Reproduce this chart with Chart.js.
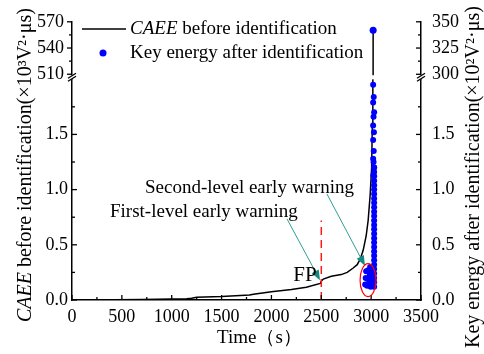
<!DOCTYPE html>
<html>
<head>
<meta charset="utf-8">
<script src="https://cdn.jsdelivr.net/npm/chart.js@4/dist/chart.umd.min.js"></script>
<style>
  html, body { margin: 0; padding: 0; background: #fff; }
</style>
</head>
<body>
<canvas id="c" width="484" height="354"></canvas>
<script>
var xTickValues = [0, 500, 1000, 1500, 2000, 2500, 3000, 3500];
var leftLowTicks = [0, 0.5, 1.0, 1.5];
var leftTopTicks = [510, 540, 570];
var rightLowTicks = [0, 0.5, 1.0, 1.5];
var rightTopTicks = [300, 325, 350];

// CAEE before identification (x10^3 V^2.us)
var caeeTime  = [150, 700, 1150, 1200, 1250, 1500, 1780, 1820, 2000, 2200, 2350, 2490, 2500, 2520, 2600, 2700, 2760, 2820, 2860, 2890, 2920, 2950, 2970, 2990, 3005, 3012, 3017, 3020];
var caeeValue = [0, 0.004, 0.012, 0.016, 0.024, 0.031, 0.045, 0.052, 0.075, 0.095, 0.115, 0.15, 0.17, 0.19, 0.215, 0.23, 0.25, 0.29, 0.32, 0.37, 0.45, 0.58, 0.72, 0.95, 1.2, 1.6, 2.3, 560];

// Key energy after identification (x10^2 V^2.us), lower part of the right axis
var keyTime = [
  2940, 2945, 2950, 2960, 2965, 2970, 2980, 2985, 2990, 2995, 3000, 3005,
  3030, 3030, 3030, 3030, 3030, 3030, 3030, 3030, 3030, 3030, 3030, 3030, 3030, 3030,
  3030, 3030, 3030, 3030, 3030, 3030, 3030, 3030, 3030, 3030, 3030, 3030, 3030, 3030,
  3022, 3030, 3020, 3026, 3020, 3028, 3020, 3024, 3030, 3020, 3026, 3020, 3024
];
var keyValue = [
  0.14, 0.20, 0.26, 0.13, 0.19, 0.27, 0.15, 0.22, 0.30, 0.12, 0.18, 0.25,
  0.12, 0.16, 0.20, 0.24, 0.28, 0.32, 0.36, 0.40, 0.44, 0.48, 0.52, 0.56, 0.60, 0.64,
  0.68, 0.72, 0.76, 0.80, 0.84, 0.88, 0.92, 0.96, 1.00, 1.04, 1.08, 1.12, 1.16, 1.20,
  1.13, 1.20, 1.28, 1.35, 1.45, 1.52, 1.58, 1.66, 1.70, 1.79, 1.84, 1.95, 1.25
];
// upper part of the right axis
var keyTopTime = [3020];
var keyTopValue = [342];

// FP marker
var fpTime = [2500, 2500];
var fpValue = [0, 0.72];

// annotations, in (time, value on lower axis)
var warn1Arrow = [[2156, 0.735], [2487, 0.18]];
var warn2Arrow = [[2557, 0.96], [2938, 0.31]];
var warn1Label = ['First-level early warning', 381, 0.80];
var warn2Label = ['Second-level early warning', 732, 1.013];
var fpLabel = ['FP', 2337, 0.224];
var ringCenter = [2969, 0.18];
var ringRadius = [80, 0.15];

var SERIF = "'Liberation Serif', 'Times New Roman', serif";
Chart.defaults.font.family = SERIF;
Chart.defaults.font.size = 19;
Chart.defaults.color = '#000';

function pts(xs, ys) {
  return xs.map(function (x, i) { return { x: x, y: ys[i] }; });
}

function fixTicks(list) {
  return function (scale) { scale.ticks = list.map(function (v) { return { value: v }; }); };
}

function yScale(stack, pos, min, max, weight, list, digits, width, pad) {
  return {
    type: 'linear', stack: stack, stackWeight: weight, position: pos, min: min, max: max,
    grid: { display: false, drawTicks: false },
    border: { display: true, color: '#000', width: 1.5 },
    afterBuildTicks: fixTicks(list),
    afterFit: function (s) { s.width = width; },
    ticks: {
      padding: pad, font: { size: 18 }, autoSkip: false,
      callback: function (v) { return digits ? v.toFixed(digits) : String(v); }
    }
  };
}

function line(ctx, x1, y1, x2, y2) {
  ctx.beginPath(); ctx.moveTo(x1, y1); ctx.lineTo(x2, y2); ctx.stroke();
}

function richText(ctx, parts, x, y) {
  parts.forEach(function (p) {
    ctx.font = p[1];
    ctx.fillText(p[0], x, y);
    x += ctx.measureText(p[0]).width;
  });
}

function arrow(ctx, s, a) {
  var x1 = s.x.getPixelForValue(a[0][0]), y1 = s.y.getPixelForValue(a[0][1]);
  var x2 = s.x.getPixelForValue(a[1][0]), y2 = s.y.getPixelForValue(a[1][1]);
  var ang = Math.atan2(y2 - y1, x2 - x1), len = 10, half = 4;
  var bx = x2 - len * Math.cos(ang), by = y2 - len * Math.sin(ang);
  ctx.strokeStyle = '#2f9e95'; ctx.lineWidth = 1;
  line(ctx, x1, y1, bx, by);
  ctx.fillStyle = '#128a80';
  ctx.beginPath();
  ctx.moveTo(x2, y2);
  ctx.lineTo(bx + half * Math.sin(ang), by - half * Math.cos(ang));
  ctx.lineTo(bx - half * Math.sin(ang), by + half * Math.cos(ang));
  ctx.closePath(); ctx.fill();
}

var extras = {
  id: 'extras',
  afterDatasetsDraw: function (chart) {
    var ctx = chart.ctx, s = chart.scales, a = chart.chartArea;
    var gapTop = s.yTop.getPixelForValue(510), gapBot = s.y.top;
    ctx.save();
    // axis break
    ctx.fillStyle = '#fff';
    ctx.fillRect(a.left - 3, gapTop + 1, a.right - a.left + 6, gapBot - gapTop - 1);
    ctx.strokeStyle = '#000'; ctx.lineWidth = 1.3;
    [a.left, a.right].forEach(function (x) {
      line(ctx, x - 4, gapTop + 4, x + 4, gapTop - 1);
      line(ctx, x - 4, gapBot + 2, x + 4, gapBot - 3);
    });
    // ticks
    var v, p;
    for (v = 0; v <= 3500; v += 250) {
      p = s.x.getPixelForValue(v);
      line(ctx, p, a.bottom, p, a.bottom - (v % 500 ? 3 : 5));
    }
    for (v = 0; v <= 1.75; v += 0.25) {
      p = s.y.getPixelForValue(v);
      line(ctx, a.left, p, a.left + (v % 0.5 ? 3 : 5), p);
      p = s.y2.getPixelForValue(v);
      line(ctx, a.right, p, a.right - (v % 0.5 ? 3 : 5), p);
    }
    for (v = 510; v <= 570; v += 15) {
      p = s.yTop.getPixelForValue(v);
      line(ctx, a.left, p, a.left - ((v - 510) % 30 ? 3 : 5), p);
    }
    for (v = 300; v <= 350; v += 12.5) {
      p = s.y2Top.getPixelForValue(v);
      line(ctx, a.right, p, a.right - ((v - 300) % 25 ? 3 : 5), p);
    }
    // annotations
    arrow(ctx, s, warn1Arrow);
    arrow(ctx, s, warn2Arrow);
    ctx.fillStyle = '#000'; ctx.textBaseline = 'middle'; ctx.textAlign = 'left';
    ctx.font = '19px ' + SERIF;
    [warn1Label, warn2Label].forEach(function (l) {
      ctx.fillText(l[0], s.x.getPixelForValue(l[1]), s.y.getPixelForValue(l[2]));
    });
    ctx.textAlign = 'center';
    ctx.font = '21px ' + SERIF;
    ctx.fillText(fpLabel[0], s.x.getPixelForValue(fpLabel[1]), s.y.getPixelForValue(fpLabel[2]));
    var cx = s.x.getPixelForValue(ringCenter[0]), cy = s.y.getPixelForValue(ringCenter[1]);
    var rx = s.x.getPixelForValue(ringCenter[0] + ringRadius[0]) - cx;
    var ry = cy - s.y.getPixelForValue(ringCenter[1] + ringRadius[1]);
    ctx.strokeStyle = '#ff0000'; ctx.lineWidth = 1.2;
    ctx.beginPath(); ctx.ellipse(cx, cy, rx, ry, 0, 0, Math.PI * 2); ctx.stroke();
    ctx.restore();
  },
  afterDraw: function (chart) {
    var ctx = chart.ctx;
    var reg = '20px ' + SERIF, ital = 'italic 20px ' + SERIF;
    ctx.save();
    ctx.fillStyle = '#000'; ctx.textBaseline = 'middle'; ctx.textAlign = 'left';
    // axis titles
    ctx.save();
    ctx.translate(26, 322); ctx.rotate(-Math.PI / 2);
    richText(ctx, [['CAEE', ital], [' before identification(\u00d710\u00b3V\u00b2\u00b7\u03bcs)', reg]], 0, 0);
    ctx.restore();
    ctx.save();
    ctx.translate(474, 348); ctx.rotate(-Math.PI / 2);
    richText(ctx, [['Key energy after identification(\u00d710\u00b2V\u00b2\u00b7\u03bcs)', reg]], 0, 0);
    ctx.restore();
    ctx.font = '19px ' + SERIF;
    ctx.fillText('Time\uff08s\uff09', 217, 338);
    // legend
    ctx.strokeStyle = '#000'; ctx.lineWidth = 1.5;
    line(ctx, 82, 29, 126, 29);
    ctx.fillStyle = '#0000ff';
    ctx.beginPath(); ctx.arc(103, 53, 3.5, 0, Math.PI * 2); ctx.fill();
    ctx.fillStyle = '#000';
    richText(ctx, [['CAEE', 'italic 19px ' + SERIF], [' before identification', '19px ' + SERIF]], 130, 29);
    richText(ctx, [['Key energy after identification', '19px ' + SERIF]], 130, 53);
    ctx.restore();
  }
};

new Chart(document.getElementById('c').getContext('2d'), {
  type: 'scatter',
  data: {
    datasets: [
      { data: pts(keyTime, keyValue), yAxisID: 'y2', pointRadius: 3, pointBorderWidth: 0, backgroundColor: '#0000ff', borderColor: '#0000ff', order: 0 },
      { data: pts(keyTopTime, keyTopValue), yAxisID: 'y2Top', pointRadius: 3.5, pointBorderWidth: 0, backgroundColor: '#0000ff', borderColor: '#0000ff', order: 0 },
      { data: pts(caeeTime, caeeValue), yAxisID: 'y', showLine: true, pointRadius: 0, borderColor: '#000', borderWidth: 1.5, order: 2 },
      { data: pts(caeeTime, caeeValue), yAxisID: 'yTop', showLine: true, pointRadius: 0, borderColor: '#000', borderWidth: 1.5, order: 2 },
      { data: pts(fpTime, fpValue), yAxisID: 'y', showLine: true, pointRadius: 0, borderColor: '#ff1a1a', borderWidth: 1.5, borderDash: [8, 5], order: 1 }
    ]
  },
  options: {
    responsive: false, animation: false, devicePixelRatio: 1,
    layout: { padding: { top: 19, right: 0, left: 0, bottom: 0 } },
    plugins: { legend: { display: false }, tooltip: { enabled: false } },
    scales: {
      x: {
        type: 'linear', min: 0, max: 3500, position: 'bottom',
        grid: { display: false, drawTicks: false },
        border: { display: true, color: '#000', width: 1.5 },
        afterBuildTicks: fixTicks(xTickValues),
        afterFit: function (s) { s.height = 54; },
        ticks: { padding: 6, font: { size: 18 }, autoSkip: false, maxRotation: 0, callback: function (v) { return String(v); } }
      },
      y: yScale('left', 'left', 0, 2, 223, leftLowTicks, 1, 72, 4),
      yTop: yScale('left', 'left', 504.3, 570, 58, leftTopTicks, 0, 72, 8),
      y2Top: yScale('right', 'right', 295.3, 350, 58, rightTopTicks, 0, 63, 11),
      y2: yScale('right', 'right', 0, 2, 223, rightLowTicks, 1, 63, 11)
    }
  },
  plugins: [extras]
});
</script>
</body>
</html>
